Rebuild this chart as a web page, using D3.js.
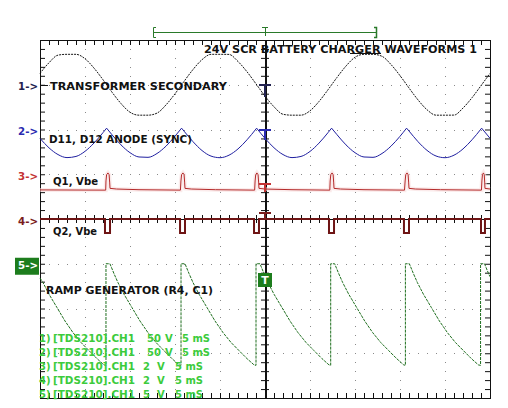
<!DOCTYPE html>
<html><head><meta charset="utf-8">
<script src="https://cdn.jsdelivr.net/npm/d3@7"></script>
<style>
body{margin:0;background:#fff}
svg{display:block}
text{font-family:"DejaVu Sans","Liberation Sans",Arial,sans-serif;font-weight:bold}
</style>
</head><body>
<svg id="c" width="508" height="408"></svg>
<script>
// ---------------- DATA ----------------
const title = "24V SCR BATTERY CHARGER WAVEFORMS 1";
const timeDomain = [0, 50];           // ms across the screen (5 ms/div x 10)
const channelIds = ["1", "2", "3", "4", "5"];
const channelNames = ["TRANSFORMER SECONDARY", "D11, D12 ANODE (SYNC)", "Q1, Vbe", "Q2, Vbe", "RAMP GENERATOR (R4, C1)"];
const voltsPerDiv = [50, 50, 2, 2, 5];
const voltsText = ["50", "50", "2", "2", "5"];
const timeText = ["5 mS", "5 mS", "5 mS", "5 mS", "5 mS"];
const scopeName = "[TDS210].CH1";

// CH1 transformer secondary [ms, V]
const ch1 = [[0,12.7],[1,24.6],[2,33.1],[3,34],[4,34],[5,29.1],[6,18.6],[7,5.6],[8,-8.3],[9,-21.0],
[10,-30.7],[11,-34],[12,-34],[13,-31.7],[14,-22.5],[15,-10.1],[16,3.7],[17,17.0],[18,28.0],[19,34],
[20,34],[21,33.9],[22,26.0],[23,14.5],[24,1.0],[25,-12.7],[26,-24.6],[27,-33.0],[28,-34],[29,-34],
[30,-29.1],[31,-18.7],[32,-5.6],[33,8.2],[34,20.9],[35,30.7],[36,34],[37,34],[38,31.8],[39,22.6],
[40,10.2],[41,-3.6],[42,-16.9],[43,-27.9],[44,-34],[45,-34],[46,-33.9],[47,-26.0],[48,-14.5],[49,-1.0],[50,12.7]];

// CH2 anode sync [ms, V]; cusps at ch2Cusps
const ch2 = [[0,-9.9],[1,-20.5],[2,-28.0],[3,-31.4],[4,-30.1],[5,-24.4],[6,-15.1],[7,-3.5],[7.4,1.5],
[8,-5.9],[9,-17.2],[10,-25.9],[11,-30.7],[12,-31.1],[13,-26.8],[14,-18.6],[15,-7.5],[15.73,1.5],
[16,-1.8],[17,-13.6],[18,-23.5],[19,-29.7],[20,-31.5],[21,-28.7],[22,-21.7],[23,-11.5],[24,0.6],[24.07,1.5],
[25,-9.9],[26,-20.4],[27,-28.0],[28,-31.4],[29,-30.1],[30,-24.5],[31,-15.2],[32,-3.5],[32.4,1.5],
[33,-5.8],[34,-17.2],[35,-25.9],[36,-30.7],[37,-31.1],[38,-26.8],[39,-18.6],[40,-7.6],[40.73,1.5],
[41,-1.7],[42,-13.6],[43,-23.3],[44,-29.6],[45,-31.5],[46,-28.7],[47,-21.7],[48,-11.5],[49,0.6],[49.07,1.5],[50,-9.8]];
const ch2Cusps = [7.4, 15.73, 24.07, 32.4, 40.73, 49.07];

// CH3 Q1 Vbe [ms, V]
const ch3 = [[0,-0.70],
[7.3,-0.71],[7.33,-0.30],[7.4,-0.02],[7.55,0.06],[7.68,-0.02],[7.74,-0.35],[7.78,-0.63],[8.5,-0.66],[11,-0.69],
[15.6,-0.71],[15.66,-0.30],[15.73,-0.02],[15.88,0.06],[16.01,-0.02],[16.07,-0.35],[16.11,-0.63],[16.8,-0.66],[19.5,-0.69],
[23.85,-0.71],[23.9,-0.30],[23.97,-0.02],[24.1,0.06],[24.23,-0.02],[24.29,-0.35],[24.33,-0.63],[25,-0.66],[28,-0.69],
[32.2,-0.71],[32.24,-0.30],[32.31,-0.02],[32.45,0.06],[32.57,-0.02],[32.63,-0.35],[32.67,-0.63],[33.4,-0.66],[36,-0.69],
[40.5,-0.71],[40.57,-0.30],[40.64,-0.02],[40.78,0.06],[40.9,-0.02],[40.96,-0.35],[41.0,-0.63],[41.7,-0.66],[44.5,-0.69],
[49.05,-0.71],[49.1,-0.30],[49.16,-0.02],[49.27,0.06],[49.36,-0.02],[49.41,-0.35],[49.44,-0.63],[50,-0.66]];

// CH4 Q2 Vbe [ms, V]
const ch4 = [[0,0],[7.22,0],[7.22,-0.63],[7.78,-0.63],[7.78,0],[15.56,0],[15.56,-0.63],[16.11,-0.63],[16.11,0],
[23.78,0],[23.78,-0.63],[24.33,-0.63],[24.33,0],[32.11,0],[32.11,-0.63],[32.67,-0.63],[32.67,0],
[40.44,0],[40.44,-0.63],[41.0,-0.63],[41.0,0],[49.0,0],[49.0,-0.63],[49.44,-0.63],[49.44,0],[50,0]];

// CH5 ramp generator [ms, V]
const ch5 = [[0,-1.6],[0.33,-2.1],[1.0,-3.4],[1.89,-4.9],[2.78,-6.4],[3.67,-7.7],[4.56,-8.8],[5.44,-9.7],[6.33,-10.6],[7.11,-11.3],[7.33,-11.35],
[7.33,0],[7.77,0],[8.22,-1.1],[8.66,-2.1],[9.33,-3.4],[10.22,-4.9],[11.11,-6.4],[12.0,-7.7],[12.89,-8.8],[13.77,-9.7],[14.66,-10.6],[15.44,-11.3],[15.67,-11.35],
[15.67,0],[16.11,0],[16.56,-1.1],[17.0,-2.1],[17.67,-3.4],[18.56,-4.9],[19.45,-6.4],[20.34,-7.7],[21.23,-8.8],[22.11,-9.7],[23.0,-10.6],[23.78,-11.3],[24.0,-11.35],
[24.0,0],[24.44,0],[24.89,-1.1],[25.33,-2.1],[26.0,-3.4],[26.89,-4.9],[27.78,-6.4],[28.67,-7.7],[29.56,-8.8],[30.44,-9.7],[31.33,-10.6],[32.11,-11.3],[32.3,-11.35],
[32.3,0],[32.74,0],[33.19,-1.1],[33.63,-2.1],[34.3,-3.4],[35.19,-4.9],[36.08,-6.4],[36.97,-7.7],[37.86,-8.8],[38.74,-9.7],[39.63,-10.6],[40.41,-11.3],[40.6,-11.35],
[40.6,0],[41.04,0],[41.49,-1.1],[41.93,-2.1],[42.6,-3.4],[43.49,-4.9],[44.38,-6.4],[45.27,-7.7],[46.16,-8.8],[47.04,-9.7],[47.93,-10.6],[48.71,-11.3],[48.95,-11.35],
[48.95,0],[49.39,0],[49.84,-1.1],[50,-1.45]];

// ---------------- LAYOUT / STYLE ----------------
const X0 = 40, X1 = 490, Y0 = 40, Y1 = 398;
const chPos = [3, 2, 1, 0, -1]; // channel reference position in divisions
const chColor = ["#151515", "#1f1fa0", "#b42a2a", "#6e1414", "#1f6f1f"];
const markColor = ["#22224f", "#2a2ab0", "#c43434", "#7a1c1c", "#1f7f1f"];
const svg = d3.select("#c");

const x = d3.scaleLinear().domain(timeDomain).range([X0, X1]);
const yDiv = d3.scaleLinear().domain([-4, 4]).range([Y1, Y0]);
const yCh = i => d3.scaleLinear()
  .domain([(-4 - chPos[i]) * voltsPerDiv[i], (4 - chPos[i]) * voltsPerDiv[i]])
  .range([Y1, Y0]);

// graticule dots
const gDots = svg.append("g").attr("fill", "#8a8a8a");
for (let i = 1; i < 10; i++) {
  if (i === 5) continue;
  const gx = Math.round(x(i * 5));
  for (let k = 1; k < 40; k++) gDots.append("rect").attr("x", gx).attr("y", Math.round(yDiv(-4 + k * 0.2))).attr("width", 1).attr("height", 1);
}
for (let j = -3; j <= 3; j++) {
  if (j === 0) continue;
  const gy = Math.round(yDiv(j));
  for (let k = 1; k < 50; k++) gDots.append("rect").attr("x", Math.round(x(k))).attr("y", gy).attr("width", 1).attr("height", 1);
}

// axes (ticks)
const minorT = d3.range(0, 50.001, 1);
const minorV = d3.range(-4, 4.001, 0.2);
function styleAxis(g) {
  g.selectAll("text").remove();
  g.select(".domain").attr("stroke", "#111");
  g.selectAll(".tick line").attr("stroke", "#111");
}
svg.append("g").attr("transform", `translate(0,${Y0})`).call(d3.axisBottom(x).tickValues(minorT).tickSize(5).tickSizeOuter(0).tickFormat("")).call(styleAxis);
svg.append("g").attr("transform", `translate(0,${Y1})`).call(d3.axisTop(x).tickValues(minorT).tickSize(5).tickSizeOuter(0).tickFormat("")).call(styleAxis);
svg.append("g").attr("transform", `translate(${X0},0)`).call(d3.axisRight(yDiv).tickValues(minorV).tickSize(5).tickSizeOuter(0).tickFormat("")).call(styleAxis);
svg.append("g").attr("transform", `translate(${X1},0)`).call(d3.axisLeft(yDiv).tickValues(minorV).tickSize(5).tickSizeOuter(0).tickFormat("")).call(styleAxis);
const yc = yDiv(0), xc = x(25);
svg.append("g").attr("transform", `translate(0,${yc})`).call(d3.axisBottom(x).tickValues(minorT).tickSize(4).tickSizeOuter(0).tickFormat("")).call(styleAxis);
svg.append("g").attr("transform", `translate(0,${yc})`).call(d3.axisTop(x).tickValues(minorT).tickSize(4).tickSizeOuter(0).tickFormat("")).call(styleAxis);
svg.append("g").attr("transform", `translate(${xc},0)`).call(d3.axisLeft(yDiv).tickValues(minorV).tickSize(4).tickSizeOuter(0).tickFormat("")).call(styleAxis);
svg.append("g").attr("transform", `translate(${xc},0)`).call(d3.axisRight(yDiv).tickValues(minorV).tickSize(4).tickSizeOuter(0).tickFormat("")).call(styleAxis);
svg.append("line").attr("x1", xc + 1.5).attr("x2", xc + 1.5).attr("y1", Y0).attr("y2", Y1).attr("stroke", "#111");
svg.append("rect").attr("x", X0 + 0.5).attr("y", Y0 + 0.5).attr("width", X1 - X0).attr("height", Y1 - Y0)
  .attr("fill", "none").attr("stroke", "#111");

// top record bracket
const gb = svg.append("g").attr("stroke", "#2a7a2a").attr("fill", "none");
gb.append("line").attr("x1", 153).attr("x2", 377).attr("y1", 32.5).attr("y2", 32.5);
gb.append("path").attr("d", "M156,27.5H153.5V37.5H156");
gb.append("path").attr("d", "M374,27.5H376.5V37.5H374").attr("stroke-width", 1.5);
gb.append("path").attr("d", "M262,27.5H268M265.5,27.5V36");

// channel traces
const lineLin = i => d3.line().x(d => x(d[0])).y(d => yCh(i)(d[1]));
// ch3 faint halo
svg.append("path").attr("d", lineLin(2)(ch3)).attr("fill", "none").attr("stroke", "#f8dede").attr("stroke-width", 4).attr("opacity", 0.6);
// ch1
svg.append("path").attr("d", lineLin(0).curve(d3.curveMonotoneX)(ch1)).attr("fill", "none")
  .attr("stroke", chColor[0]).attr("stroke-width", 1).attr("stroke-dasharray", "2 1");
// ch2 split at cusps
const segs = [];
let cur = [];
ch2.forEach(d => { cur.push(d); if (ch2Cusps.includes(d[0])) { segs.push(cur); cur = [d]; } });
if (cur.length > 1) segs.push(cur);
const l2 = lineLin(1).curve(d3.curveMonotoneX);
svg.append("path").attr("d", segs.map(s => l2(s)).join("")).attr("fill", "none").attr("stroke", chColor[1]).attr("stroke-width", 1);
// ch3
svg.append("path").attr("d", lineLin(2)(ch3)).attr("fill", "none").attr("stroke", chColor[2]).attr("stroke-width", 1);
// ch4
svg.append("path").attr("d", lineLin(3)(ch4)).attr("fill", "none").attr("stroke", chColor[3]).attr("stroke-width", 2);
// ch5
svg.append("path").attr("d", lineLin(4)(ch5)).attr("fill", "none").attr("stroke", chColor[4]).attr("stroke-width", 1)
  .attr("stroke-dasharray", "3 1");

// reference markers on centre axis
const refMarks = [[85, 97], [130, 140], [184, 192], [213, 219]];
refMarks.forEach((m, i) => {
  const g = svg.append("g").attr("stroke", markColor[i]).attr("stroke-width", 2);
  g.append("line").attr("x1", 259).attr("x2", 271).attr("y1", m[0]).attr("y2", m[0]);
  g.append("line").attr("x1", 265).attr("x2", 265).attr("y1", m[0]).attr("y2", m[1]);
});
svg.append("line").attr("x1", X0).attr("x2", 48).attr("y1", 85.5).attr("y2", 85.5).attr("stroke", "#111");

// title
svg.append("text").attr("x", 204).attr("y", 53).attr("font-size", 10.5).attr("fill", "#111")
  .attr("textLength", 273).attr("lengthAdjust", "spacingAndGlyphs").text(title);
svg.append("line").attr("x1", 350).attr("x2", 381).attr("y1", 53.5).attr("y2", 53.5).attr("stroke", "#111");

// channel labels
const nameX = [50, 49, 53, 53, 46], nameY = [89.5, 143, 184.5, 235, 294], nameW = [177, 143, 45, 44, 167];
channelNames.forEach((n, i) => {
  svg.append("text").attr("x", nameX[i]).attr("y", nameY[i]).attr("font-size", 10.5).attr("fill", "#111")
    .attr("textLength", nameW[i]).attr("lengthAdjust", "spacingAndGlyphs").text(n);
});

// left channel markers
channelIds.forEach((c, i) => {
  const cy = yCh(i)(0);
  if (i === 4) {
    svg.append("rect").attr("x", 15).attr("y", cy - 6).attr("width", 24).attr("height", 17).attr("fill", "#1d7d1d");
    svg.append("text").attr("x", 18).attr("y", cy + 5.5).attr("font-size", 11).attr("fill", "#fff")
      .attr("textLength", 20).attr("lengthAdjust", "spacingAndGlyphs").text(c + "->");
  } else {
    svg.append("text").attr("x", 18).attr("y", cy + 5.5).attr("font-size", 11).attr("fill", markColor[i])
      .attr("textLength", 20).attr("lengthAdjust", "spacingAndGlyphs").text(c + "->");
  }
});

// trigger box
svg.append("rect").attr("x", 258).attr("y", 273).attr("width", 14).attr("height", 14).attr("fill", "#1d7d1d");
svg.append("text").attr("x", 265).attr("y", 284).attr("font-size", 11).attr("fill", "#fff").attr("text-anchor", "middle").text("T");

// green scope settings lines
const infoY = [341.5, 355.5, 369.5, 383.5, 397.5];
const vX = [147, 147, 143, 143, 143];
const uX = [165, 165, 157, 157, 157];
const tX = [182, 182, 175, 175, 175];
const gInfo = svg.append("g").attr("fill", "#3ccb3c").attr("font-size", 10);
channelIds.forEach((c, i) => {
  gInfo.append("text").attr("x", 39).attr("y", infoY[i]).text(c + ")");
  gInfo.append("text").attr("x", 53).attr("y", infoY[i]).attr("textLength", 82).attr("lengthAdjust", "spacingAndGlyphs").text(scopeName);
  gInfo.append("text").attr("x", vX[i]).attr("y", infoY[i]).text(voltsText[i]);
  gInfo.append("text").attr("x", uX[i]).attr("y", infoY[i]).text("V");
  gInfo.append("text").attr("x", tX[i]).attr("y", infoY[i]).attr("textLength", 28).attr("lengthAdjust", "spacingAndGlyphs").text(timeText[i]);
});
</script>
</body></html>
